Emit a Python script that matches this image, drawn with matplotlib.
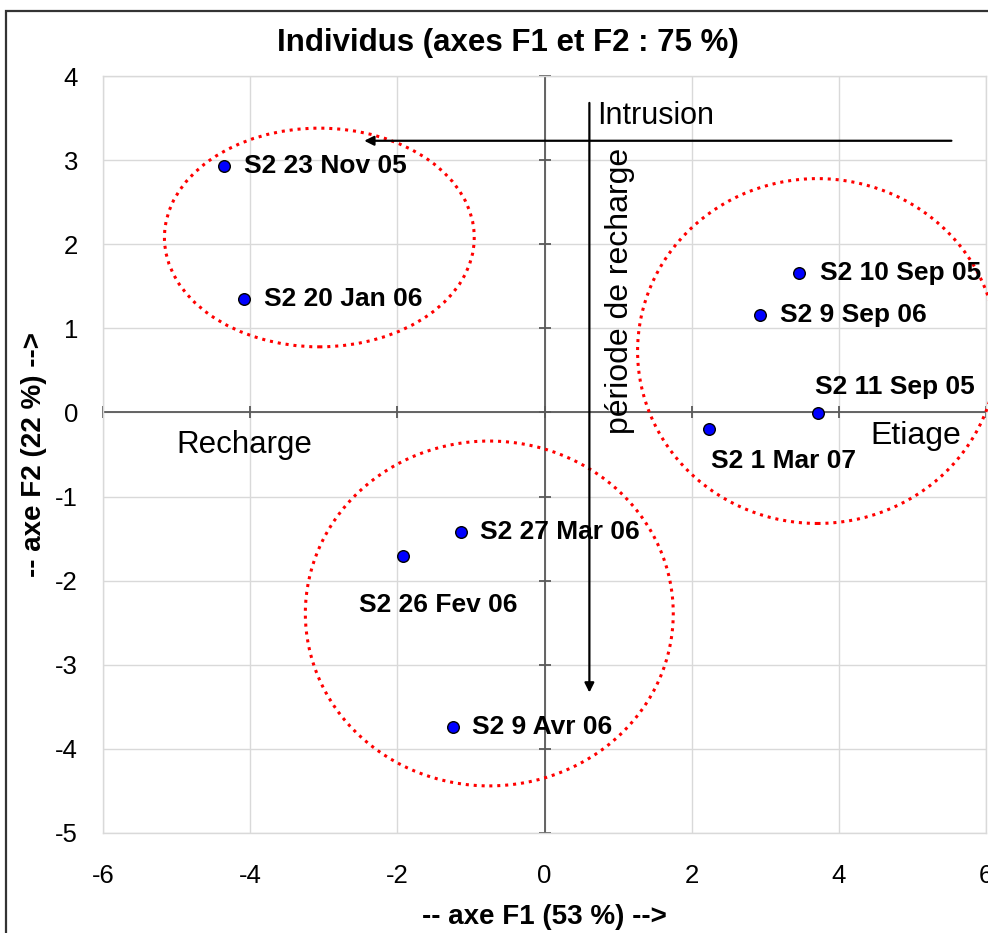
import matplotlib
matplotlib.use("Agg")
import matplotlib.pyplot as plt
from matplotlib.patches import Ellipse, Rectangle
import numpy as np

plt.rcParams['font.family'] = ['Liberation Sans', 'DejaVu Sans']

# ---- data ----
labels = ["S2 23 Nov 05", "S2 20 Jan 06", "S2 10 Sep 05", "S2 9 Sep 06",
          "S2 11 Sep 05", "S2 1 Mar 07", "S2 27 Mar 06", "S2 26 Fev 06", "S2 9 Avr 06"]
f1 = [-4.35, -4.08, 3.46, 2.93, 3.72, 2.23, -1.14, -1.92, -1.25]
f2 = [2.93, 1.35, 1.66, 1.16, -0.01, -0.20, -1.42, -1.71, -3.74]
xticks = [-6, -4, -2, 0, 2, 4, 6]
yticks = [-5, -4, -3, -2, -1, 0, 1, 2, 3, 4]

# label offsets (points)
offsets = [(14, 0), (14, 0), (15, 0), (14, 0), (-2, 19), (2, -23), (14, 0), (-32, -35), (14, 0)]

fig = plt.figure(figsize=(9.88, 9.33), dpi=100)
ax = fig.add_axes([103/988, 1-833/933, (986-103)/988, (833-76)/933])

# outer figure border
fig.patches.append(Rectangle((6/988, -0.05), 1.1, 1-11/933+0.05, transform=fig.transFigure,
                             fill=False, edgecolor='#333333', linewidth=1.6))

ax.set_xlim(-6, 6)
ax.set_ylim(-5, 4)
ax.set_xticks(xticks)
ax.set_yticks(yticks)
ax.set_xticklabels([str(t) for t in xticks])
ax.set_yticklabels([str(t) for t in yticks])
ax.tick_params(length=0, labelsize=18.5)
ax.tick_params(axis='x', pad=22)
ax.tick_params(axis='y', pad=18)
ax.grid(True, color='#d9d9d9', linewidth=1.0)
ax.set_axisbelow(True)
for s in ax.spines.values():
    s.set_color('#d9d9d9')
    s.set_linewidth(1.0)

# zero axes with cross ticks
ax.axhline(0, color='#595959', linewidth=1.3, zorder=2)
ax.axvline(0, color='#595959', linewidth=1.3, zorder=2)
ax.plot(xticks, np.zeros(len(xticks)), linestyle='none', marker='|', ms=9, mew=1.3,
        color='#595959', zorder=2, clip_on=False)
ax.plot(np.zeros(len(yticks)), yticks, linestyle='none', marker='_', ms=9, mew=1.3,
        color='#595959', zorder=2, clip_on=False)

fig.text(508/988, 1-43/933, "Individus (axes F1 et F2 : 75 %)", fontsize=22.5,
         fontweight='bold', ha='center', va='center')
ax.set_xlabel("-- axe F1 (53 %) -->", fontsize=20, fontweight='bold', labelpad=12)
ax.set_ylabel("-- axe F2 (22 %) -->", fontsize=20, fontweight='bold', labelpad=6)

# ellipses
for (cx, cy, w, h) in [(-3.06, 2.08, 4.21, 2.6), (3.71, 0.73, 4.89, 4.1), (-0.75, -2.39, 5.0, 4.1)]:
    e = Ellipse((cx, cy), w, h, fill=False, edgecolor='#ff0000', linewidth=2.2,
                linestyle=(0, (1, 1.6)), zorder=3, clip_on=False)
    ax.add_patch(e)

# arrows
ax.annotate("", xy=(-2.45, 3.23), xytext=(5.53, 3.23),
            arrowprops=dict(arrowstyle='-|>', color='black', lw=1.6, mutation_scale=14,
                            shrinkA=0, shrinkB=0), zorder=4)
ax.annotate("", xy=(0.61, -3.33), xytext=(0.61, 3.68),
            arrowprops=dict(arrowstyle='-|>', color='black', lw=1.6, mutation_scale=14,
                            shrinkA=0, shrinkB=0), zorder=4)

ax.text(0.72, 3.52, "Intrusion", fontsize=22, ha='left', va='center')
ax.text(1.03, 1.45, "période de recharge", fontsize=23, rotation=90, ha='center', va='center')
ax.text(-4.08, -0.39, "Recharge", fontsize=22.5, ha='center', va='center')
ax.text(5.04, -0.28, "Etiage", fontsize=23, ha='center', va='center')

# points
ax.scatter(f1, f2, s=70, color='#0000ff', edgecolors='black', linewidths=1.0, zorder=5)
for lab, x, y, off in zip(labels, f1, f2, offsets):
    ax.annotate(lab, (x, y), xytext=off, textcoords='offset points', fontsize=19,
                fontweight='bold', ha='left', va='center', zorder=6)

fig.savefig("out.png", dpi=100)
